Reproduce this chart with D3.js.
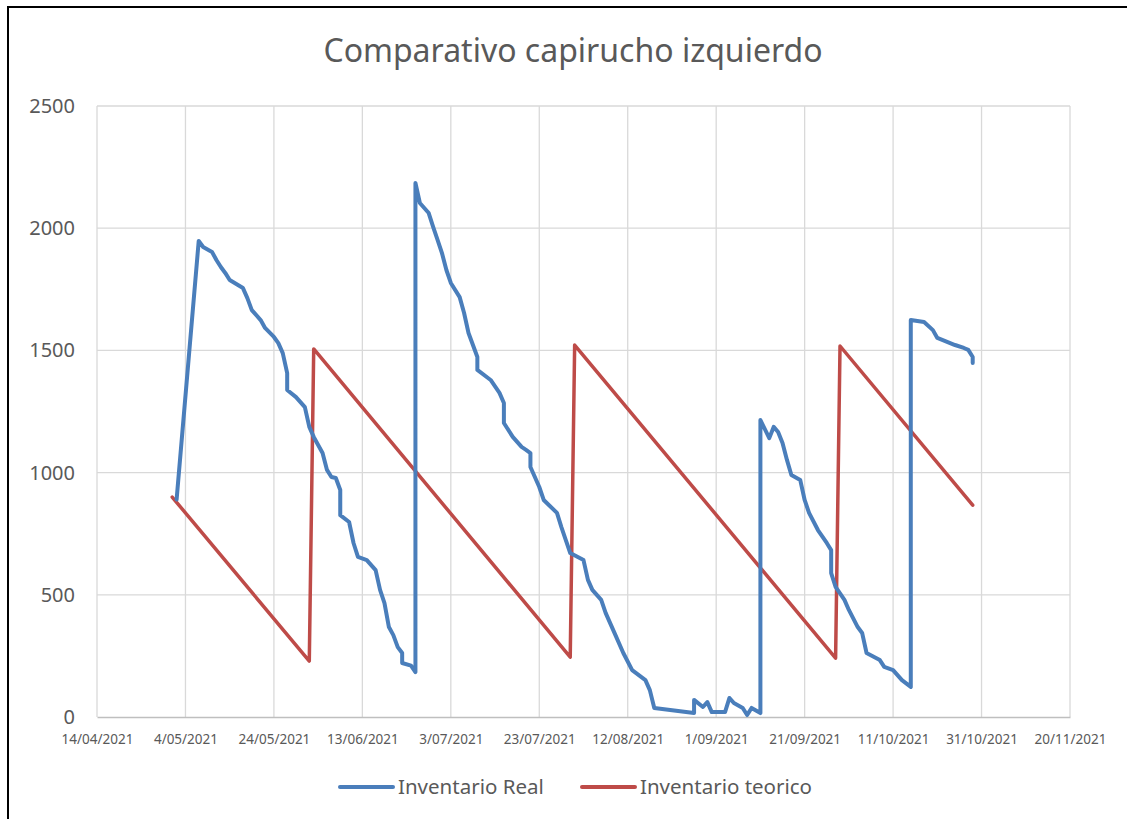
<!DOCTYPE html>
<html>
<head>
<meta charset="utf-8">
<script src="https://cdn.jsdelivr.net/npm/d3@7"></script>
<style>
  html, body { margin: 0; padding: 0; background: #fff; }
  #chart { width: 1127px; height: 819px; }
  text { font-family: "Noto Sans", "Open Sans", sans-serif; fill: #595959; }
</style>
</head>
<body>
<div id="chart"></div>
<script>
// datos
const chartTitle = "Comparativo capirucho izquierdo";
const seriesNames = ["Inventario Real", "Inventario teorico"];

const realDates = [
  "2021-05-02","2021-05-07","2021-05-08","2021-05-10","2021-05-11","2021-05-12","2021-05-13","2021-05-14",
  "2021-05-17","2021-05-18","2021-05-19","2021-05-21","2021-05-22","2021-05-24","2021-05-25","2021-05-26",
  "2021-05-27","2021-05-27","2021-05-29","2021-05-31","2021-06-01","2021-06-02","2021-06-04","2021-06-05",
  "2021-06-06","2021-06-07","2021-06-08","2021-06-08","2021-06-10","2021-06-11","2021-06-12","2021-06-14",
  "2021-06-16","2021-06-17","2021-06-18","2021-06-19","2021-06-20","2021-06-21","2021-06-22","2021-06-22",
  "2021-06-24","2021-06-25","2021-06-25","2021-06-26","2021-06-28","2021-06-29","2021-06-30","2021-07-01",
  "2021-07-02","2021-07-03","2021-07-05","2021-07-06","2021-07-07","2021-07-09","2021-07-09","2021-07-12",
  "2021-07-14","2021-07-15","2021-07-15","2021-07-17","2021-07-19","2021-07-20","2021-07-21","2021-07-21",
  "2021-07-23","2021-07-24","2021-07-27","2021-07-28","2021-07-29","2021-07-30","2021-08-02","2021-08-03",
  "2021-08-04","2021-08-06","2021-08-07","2021-08-09","2021-08-11","2021-08-13","2021-08-16","2021-08-17",
  "2021-08-18","2021-08-27","2021-08-27","2021-08-29","2021-08-30","2021-08-31","2021-09-03","2021-09-04",
  "2021-09-05","2021-09-07","2021-09-08","2021-09-09","2021-09-11","2021-09-11","2021-09-13","2021-09-14",
  "2021-09-15","2021-09-16","2021-09-17","2021-09-18","2021-09-20","2021-09-21","2021-09-22","2021-09-24",
  "2021-09-26","2021-09-27","2021-09-27","2021-09-28","2021-09-30","2021-10-01","2021-10-03","2021-10-04",
  "2021-10-05","2021-10-08","2021-10-09","2021-10-11","2021-10-13","2021-10-15","2021-10-15","2021-10-18",
  "2021-10-20","2021-10-21","2021-10-25","2021-10-27","2021-10-28","2021-10-29","2021-10-29"
];
const realValues = [
  890,1948,1923,1903,1870,1841,1817,1788,
  1755,1714,1665,1624,1592,1555,1530,1489,
  1407,1338,1309,1268,1187,1146,1080,1011,
  982,978,929,826,798,712,655,642,
  601,520,466,368,335,286,262,221,
  210,184,2185,2103,2062,2005,1952,1898,
  1829,1776,1718,1653,1571,1473,1420,1379,
  1326,1285,1203,1146,1105,1093,1080,1023,
  941,888,835,777,724,671,642,561,
  520,479,426,344,262,192,151,110,
  37,16,70,41,61,20,20,78,
  57,37,8,37,16,1215,1141,1187,
  1166,1121,1052,990,970,888,835,765,
  712,683,589,532,479,438,368,344,
  262,233,205,192,151,123,1624,1616,
  1583,1551,1522,1510,1502,1473,1448
];

const teoricoDates = ["2021-05-01","2021-06-01","2021-06-02","2021-07-30","2021-07-31","2021-09-28","2021-09-29","2021-10-29"];
const teoricoValues = [900, 229, 1506, 245, 1522, 241, 1518, 867];

const xTickDates = ["2021-04-14","2021-05-04","2021-05-24","2021-06-13","2021-07-03","2021-07-23",
  "2021-08-12","2021-09-01","2021-09-21","2021-10-11","2021-10-31","2021-11-20"];
const yTicks = [0, 500, 1000, 1500, 2000, 2500];

(function () {
  const W = 1127, H = 819;
  const parse = d3.utcParse("%Y-%m-%d");
  const fmt = d3.utcFormat("%-d/%m/%Y");
  const colors = ["#4a7ebb", "#be4b48"];

  const svg = d3.select("#chart").append("svg")
    .attr("width", W).attr("height", H);

  // marco del gráfico
  svg.append("rect")
    .attr("x", 8).attr("y", 7)
    .attr("width", W + 20).attr("height", H + 20)
    .attr("fill", "#fff").attr("stroke", "#000").attr("stroke-width", 2);

  const plot = { left: 97, right: 1070, top: 106, bottom: 717 };

  const tickDates = xTickDates.map(parse);
  const x = d3.scaleUtc()
    .domain([tickDates[0], tickDates[tickDates.length - 1]])
    .range([plot.left, plot.right]);
  const y = d3.scaleLinear().domain([0, 2500]).range([plot.bottom, plot.top]);

  // rejilla horizontal
  svg.append("g")
    .selectAll("line")
    .data(yTicks.filter(d => d > 0))
    .join("line")
    .attr("x1", plot.left).attr("x2", plot.right)
    .attr("y1", d => y(d)).attr("y2", d => y(d))
    .attr("stroke", "#d9d9d9").attr("stroke-width", 1.3);

  // rejilla vertical
  svg.append("g")
    .selectAll("line")
    .data(tickDates)
    .join("line")
    .attr("x1", d => x(d)).attr("x2", d => x(d))
    .attr("y1", plot.top).attr("y2", plot.bottom)
    .attr("stroke", "#d9d9d9").attr("stroke-width", 1.3);

  // eje x
  const xAxis = svg.append("g")
    .attr("transform", `translate(0,${plot.bottom})`)
    .call(d3.axisBottom(x).tickValues(tickDates).tickFormat(fmt).tickSize(0).tickPadding(17));
  xAxis.select(".domain").attr("stroke", "#bfbfbf").attr("stroke-width", 1.5);
  xAxis.selectAll("text")
    .style("font-family", "'Noto Sans', sans-serif")
    .style("font-size", "13.5px").attr("fill", "#595959");

  // eje y
  const yAxis = svg.append("g")
    .attr("transform", `translate(${plot.left},0)`)
    .call(d3.axisLeft(y).tickValues(yTicks).tickFormat(d3.format("d")).tickSize(0).tickPadding(22));
  yAxis.select(".domain").remove();
  yAxis.selectAll("text")
    .style("font-family", "'Noto Sans', sans-serif")
    .style("font-size", "20px").attr("fill", "#595959");

  const line = d3.line().x(d => x(d.date)).y(d => y(d.value));

  const real = realDates.map((d, i) => ({ date: parse(d), value: realValues[i] }));
  const teorico = teoricoDates.map((d, i) => ({ date: parse(d), value: teoricoValues[i] }));

  svg.append("path")
    .datum(teorico)
    .attr("d", line)
    .attr("fill", "none")
    .attr("stroke", colors[1])
    .attr("stroke-width", 3.5)
    .attr("stroke-linejoin", "round")
    .attr("stroke-linecap", "round");

  svg.append("path")
    .datum(real)
    .attr("d", line)
    .attr("fill", "none")
    .attr("stroke", colors[0])
    .attr("stroke-width", 4)
    .attr("stroke-linejoin", "round")
    .attr("stroke-linecap", "round");

  // título
  svg.append("text")
    .attr("x", 573).attr("y", 62)
    .attr("text-anchor", "middle")
    .style("font-size", "32px")
    .text(chartTitle);

  // leyenda
  const legend = svg.append("g").attr("transform", "translate(0,787)");
  const legendX = [340, 582];
  seriesNames.forEach((name, i) => {
    const g = legend.append("g").attr("transform", `translate(${legendX[i]},0)`);
    g.append("line")
      .attr("x1", 0).attr("x2", 53)
      .attr("stroke", colors[i]).attr("stroke-width", 4)
      .attr("stroke-linecap", "round");
    g.append("text")
      .attr("x", 58).attr("dy", "0.35em")
      .style("font-size", "20.5px")
      .text(name);
  });
})();
</script>
</body>
</html>
